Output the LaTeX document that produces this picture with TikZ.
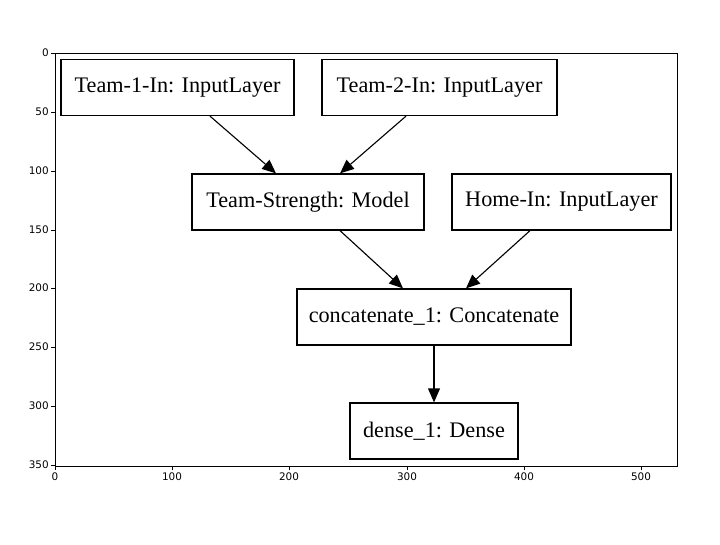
\documentclass[tikz,border=0pt]{standalone}
\usepackage{fontspec}
\setmainfont{Liberation Serif}
\newfontfamily\tickfont{DejaVu Sans}
\usetikzlibrary{arrows.meta}
\newcommand\pxl{0.72pt}
\begin{document}
\begin{tikzpicture}[x=\pxl, y=-\pxl,
        layer/.style={draw, line width=0.9pt, inner sep=0pt, minimum height=56*\pxl, font=\fontsize{16}{19}\selectfont},
        arrow/.style={-{Triangle[length=10pt,width=8.5pt]}, line width=0.8pt},
        tick/.style={font=\tickfont\fontsize{7.5}{9}\selectfont, inner sep=1.5pt}
    ]
        \useasboundingbox (0,0) rectangle (720,544);

        % Axes frame
        \draw[line width=0.6pt] (55,53) rectangle (677,466);

        % Y ticks
        \draw (55,53) -- (51,53) node[tick, left] (y0) {0};
        \draw (55,112) -- (51,112) node[tick, left] (y50) {50};
        \draw (55,171) -- (51,171) node[tick, left] (y100) {100};
        \draw (55,230) -- (51,230) node[tick, left] (y150) {150};
        \draw (55,288) -- (51,288) node[tick, left] (y200) {200};
        \draw (55,347) -- (51,347) node[tick, left] (y250) {250};
        \draw (55,406) -- (51,406) node[tick, left] (y300) {300};
        \draw (55,465) -- (51,465) node[tick, left] (y350) {350};

        % X ticks
        \draw (55,466) -- (55,470) node[tick, below] (x0) {0};
        \draw (172,466) -- (172,470) node[tick, below] (x100) {100};
        \draw (289,466) -- (289,470) node[tick, below] (x200) {200};
        \draw (407,466) -- (407,470) node[tick, below] (x300) {300};
        \draw (524,466) -- (524,470) node[tick, below] (x400) {400};
        \draw (641,466) -- (641,470) node[tick, below] (x500) {500};

        % Layers
        \node[layer, minimum width=233*\pxl] (t1) at (177.5,87.5) {Team-1-In: InputLayer};
        \node[layer, minimum width=235*\pxl] (t2) at (439.5,87.5) {Team-2-In: InputLayer};
        \node[layer, minimum width=232*\pxl] (ts) at (308,202) {Team-Strength: Model};
        \node[layer, minimum width=219*\pxl] (home) at (561.5,202) {Home-In: InputLayer};
        \node[layer, minimum width=274*\pxl] (cat) at (434,317) {concatenate\_1: Concatenate};
        \node[layer, minimum width=168*\pxl] (dense) at (434,431) {dense\_1: Dense};

        \draw[arrow] ([xshift=32.5*\pxl]t1.south) -- ([xshift=-32*\pxl]ts.north);
        \draw[arrow] ([xshift=-33.5*\pxl]t2.south) -- ([xshift=32*\pxl]ts.north);
        \draw[arrow] ([xshift=32*\pxl]ts.south) -- ([xshift=-31*\pxl]cat.north);
        \draw[arrow] ([xshift=-31.5*\pxl]home.south) -- ([xshift=32*\pxl]cat.north);
        \draw[arrow] (cat) -- (dense);
    \end{tikzpicture}
\end{document}
